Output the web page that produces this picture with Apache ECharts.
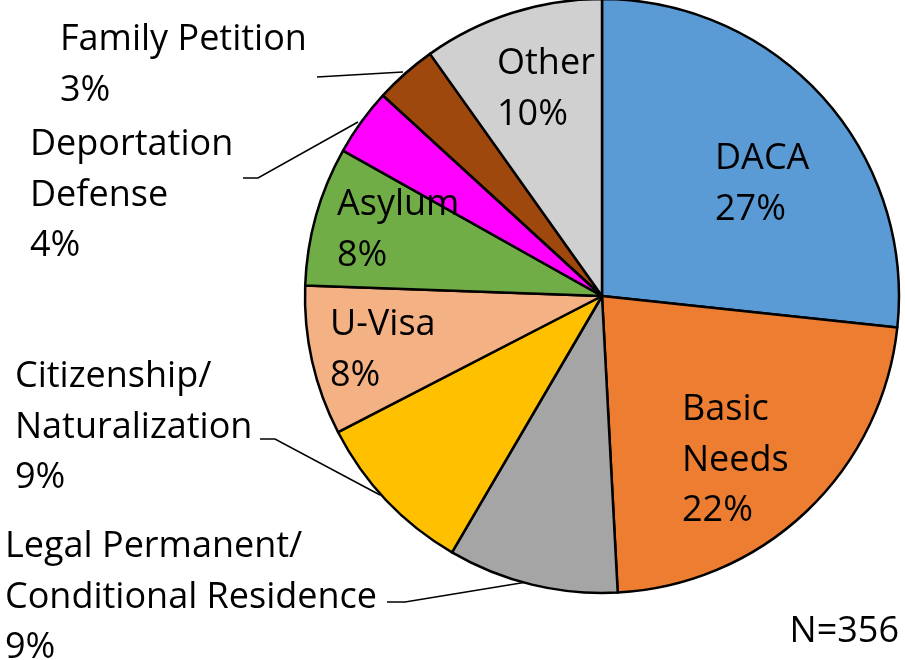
<!DOCTYPE html>
<html>
<head>
<meta charset="utf-8">
<script src="https://cdn.jsdelivr.net/npm/echarts@6/dist/echarts.min.js"></script>
<style>
  html, body { margin: 0; padding: 0; background: #fff; }
  #chart { width: 905px; height: 660px; }
</style>
</head>
<body>
<div id="chart"></div>
<script>
// categories, in clockwise order from 12 o'clock
const categories = ['DACA', 'Basic\nNeeds', 'Legal Permanent/\nConditional Residence', 'Citizenship/\nNaturalization',
  'U-Visa', 'Asylum', 'Deportation\nDefense', 'Family Petition', 'Other'];
// case counts (N=356)
const counts = [95, 80, 33, 32, 29, 27, 13, 12, 35];
const colors = ['#5B9BD5', '#ED7D31', '#A5A5A5', '#FFC000', '#F4B183', '#70AD47', '#FF00FF', '#9E480E', '#D0D0D0'];
const totalLabel = 'N=356';

// label placement (top-left of text block) and leader lines for outside labels
const LH = 50.5;
const FS = 36;
const labelPos = [
  { x: 715, y: 159 - LH / 2 },
  { x: 682, y: 410 - LH / 2 },
  { x: 5, y: 547 - LH / 2, line: [[527, 582], [405, 602], [387, 602]] },
  { x: 15, y: 377 - LH / 2, line: [[380, 495], [275, 439], [260, 439]] },
  { x: 330, y: 325 - LH / 2 },
  { x: 337, y: 205 - LH / 2 },
  { x: 30, y: 145 - LH / 2, line: [[358, 122], [258, 178], [243, 178]] },
  { x: 60, y: 40 - LH / 2, line: [[403, 72], [317, 77]] },
  { x: 497, y: 64 - LH / 2 }
];

const chart = echarts.init(document.getElementById('chart'));

const data = categories.map((name, i) => ({
  name: name,
  value: counts[i],
  itemStyle: { color: colors[i] },
  labelLine: { show: !!labelPos[i].line }
}));

chart.setOption({
  animation: false,
  graphic: [{
    type: 'text',
    right: 6,
    top: 614,
    style: { text: totalLabel, font: FS + 'px "Open Sans"', fill: '#000' }
  }],
  series: [{
    type: 'pie',
    center: [602, 296],
    radius: 297,
    startAngle: 90,
    clockwise: true,
    data: data,
    itemStyle: { borderColor: '#000', borderWidth: 2.5 },
    label: {
      show: true,
      position: 'outside',
      overflow: 'none',
      formatter: p => p.name + '\n' + Math.round(p.percent) + '%',
      fontFamily: 'Open Sans',
      fontSize: FS,
      lineHeight: LH,
      color: '#000'
    },
    labelLine: {
      lineStyle: { color: '#000', width: 1.5 }
    },
    labelLayout: function (params) {
      const pos = labelPos[params.dataIndex];
      const out = { x: pos.x, y: pos.y, align: 'left', verticalAlign: 'top' };
      if (pos.line) out.labelLinePoints = pos.line;
      return out;
    }
  }]
});
</script>
</body>
</html>
